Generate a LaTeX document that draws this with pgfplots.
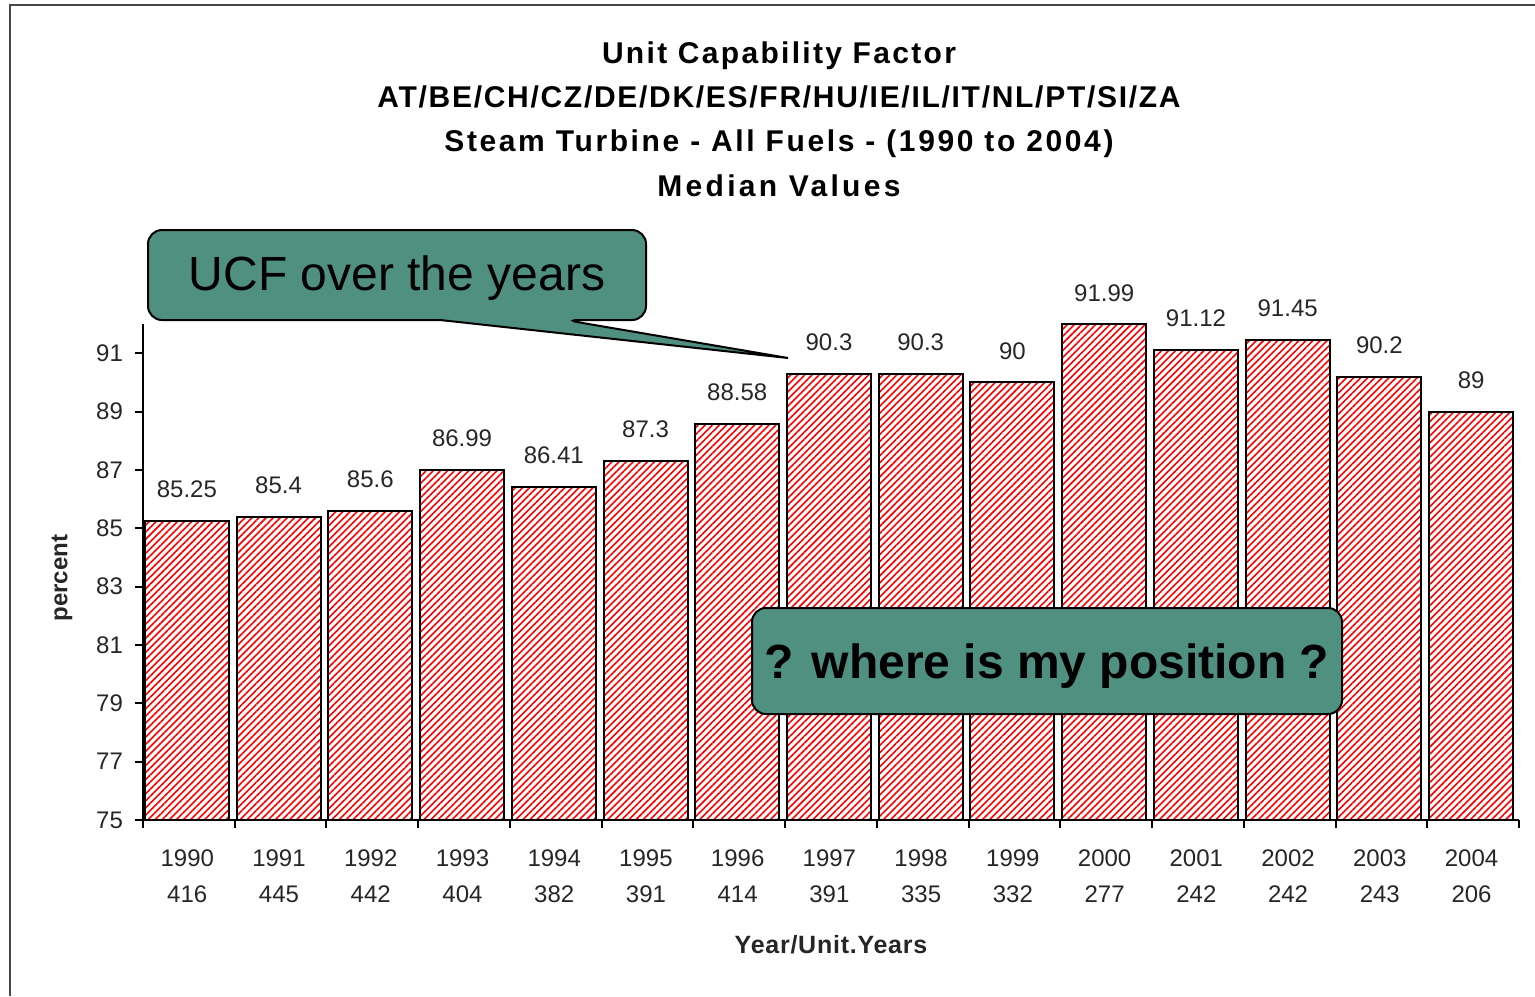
\documentclass[border=0pt]{standalone}
\usepackage{fontspec}
\setmainfont{Liberation Sans}
\usepackage{pgfplots}
\usepackage{pgfplotstable}
\pgfplotsset{compat=1.18}
\usetikzlibrary{patterns.meta}
\definecolor{callout}{RGB}{80,144,128}
\definecolor{framegray}{RGB}{70,70,70}

\pgfplotstableread{
x y lab
0 85.25 85.25
1 85.4 85.4
2 85.6 85.6
3 86.99 86.99
4 86.41 86.41
5 87.3 87.3
6 88.58 88.58
7 90.3 90.3
8 90.3 90.3
9 90 90
10 91.99 91.99
11 91.12 91.12
12 91.45 91.45
13 90.2 90.2
14 89 89
}\ucf

\begin{document}
\begin{tikzpicture}
\useasboundingbox (0,0) rectangle (767.5pt,-498pt);
\draw[framegray, line width=1pt] (5pt,-498pt) -- (5pt,-2.5pt) -- (767.5pt,-2.5pt);
\begin{axis}[
  scale only axis, width=688pt, height=248pt,
  anchor=south west, at={(71.5pt,-410pt)},
  xmin=-0.5, xmax=14.5, ymin=75, ymax=92,
  clip=false,
  axis x line=bottom, axis y line=left,
  axis line style={-, line width=1pt, black},
  ytick={75,77,...,91},
  xtick={0,...,14},
  xticklabels={{1990\\416},{1991\\445},{1992\\442},{1993\\404},{1994\\382},{1995\\391},{1996\\414},{1997\\391},{1998\\335},{1999\\332},{2000\\277},{2001\\242},{2002\\242},{2003\\243},{2004\\206}},
  xticklabel style={align=center, font=\fontsize{12}{18}\selectfont, text=black!85, yshift=-7.5pt, xshift=-0.8pt},
  yticklabel style={font=\fontsize{12}{14}\selectfont, text=black!85, xshift=-2.5pt},
  /pgf/number format/assume math mode=true,
  major x tick style={draw=none},
  minor xtick={-0.5,0.5,...,14.5},
  tick align=outside,
  major tick length=4pt,
  minor tick length=4pt,
  tick style={line width=1pt, black},
  xlabel={Year/Unit.Years},
  xlabel style={at={(axis description cs:0.5,0)}, anchor=center, yshift=-62.5pt, font=\fontsize{12.5}{14}\selectfont\bfseries\addfontfeatures{LetterSpace=3}, text=black!85},
  ylabel={percent},
  ylabel style={at={(axis description cs:0,0.5)}, anchor=center, yshift=40.5pt, xshift=-3pt, font=\fontsize{12}{14}\selectfont\bfseries, text=black!85},
  ybar, bar width=42pt,
  nodes near coords,
  point meta=explicit symbolic,
  nodes near coords style={font=\fontsize{12}{14}\selectfont, text=black!85, anchor=south, inner sep=0pt, yshift=11pt},
]
\addplot[draw=black, line width=1pt, pattern={Lines[angle=45, distance=2.5pt, line width=0.8pt]}, pattern color=red, bar shift=-1pt]
  table[x=x, y=y, meta=lab] {\ucf};
\end{axis}
\begin{scope}[x=0.5pt, y=-0.5pt]
  \begin{scope}[font=\fontsize{15}{18}\selectfont\bfseries]
    \node[anchor=base] at (779,63) {\addfontfeatures{LetterSpace=7.7}Unit Capability Factor};
    \node[anchor=base] at (779,107) {\addfontfeatures{LetterSpace=5.7}AT/BE/CH/CZ/DE/DK/ES/FR/HU/IE/IL/IT/NL/PT/SI/ZA};
    \node[anchor=base] at (779,151) {\addfontfeatures{LetterSpace=8.7}Steam Turbine - All Fuels - (1990 to 2004)};
    \node[anchor=base] at (779,196) {\addfontfeatures{LetterSpace=11}Median Values};
  \end{scope}
  \filldraw[fill=callout, draw=black, line width=1pt, rounded corners=7pt]
    (440,320) -- (148,320) -- (148,230) -- (646,230) -- (646,320) -- (565,320) [sharp corners] -- (788,358) -- cycle;
  \node[font=\fontsize{24}{28}\selectfont] at (397,278) {UCF over the years};
  \filldraw[fill=callout, draw=black, line width=1pt, rounded corners=7pt]
    (752,608) rectangle (1342,714);
  \node[font=\fontsize{24}{28}\selectfont\bfseries] at (1047,666) {? where is my position ?};
\end{scope}
\end{tikzpicture}
\end{document}
